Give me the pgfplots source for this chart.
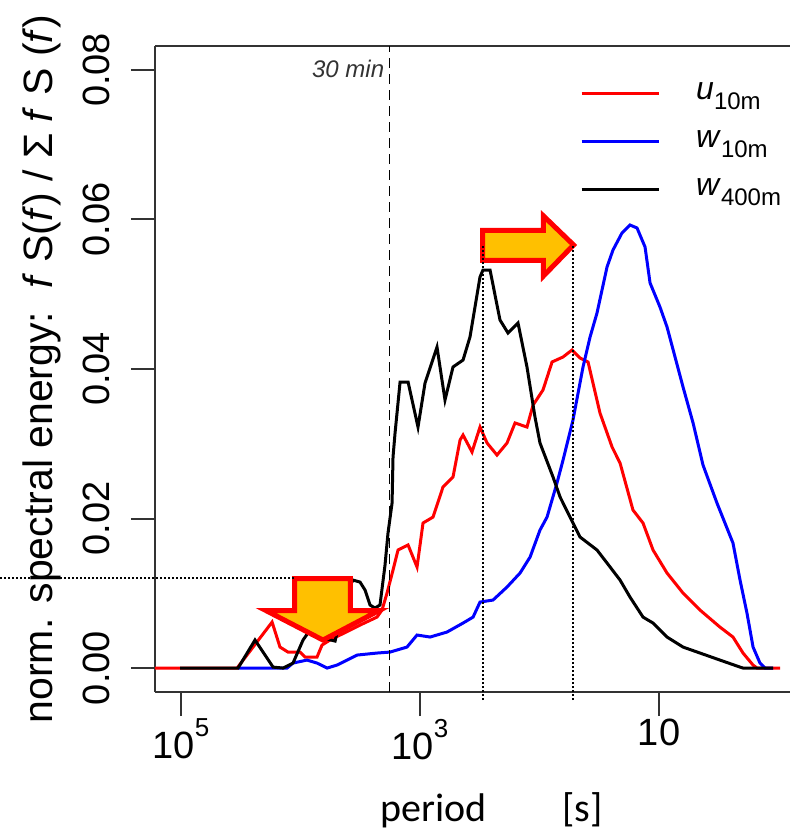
\documentclass[border=0pt]{standalone}
\usepackage{fontspec}
\setmainfont{Liberation Sans}
\newfontfamily\calibri{Carlito}
\usepackage{pgfplots}
\pgfplotsset{compat=1.18}
\definecolor{arrowfill}{HTML}{FFC000}

\begin{document}
\begin{tikzpicture}
\useasboundingbox (-77.5pt,-69pt) rectangle (317.5pt,346pt);
\begin{axis}[
	scale only axis,
	width=317.5pt, height=323pt,
	x dir=reverse,
	xmin=-0.096, xmax=5.218,
	ymin=-0.0032, ymax=0.0832,
	axis y line*=left,
	clip=false,
	scaled y ticks=false,
	axis line style={black!80, line width=1pt},
	every tick/.style={black!80, line width=1pt},
	tick align=outside,
	major tick length=12pt,
	xtick pos=left, ytick pos=left,
	xtick={5,3,1},
	xticklabels={10\raisebox{11pt}{\fontsize{13}{13}\selectfont 5},10\raisebox{11pt}{\fontsize{13}{13}\selectfont 3},10},
	ytick={0,0.02,0.04,0.06,0.08},
	yticklabels={0.00,0.02,0.04,0.06,0.08},
	tick label style={font=\fontsize{19}{19}\selectfont},
	xticklabel style={anchor=north, yshift=2pt},
	yticklabel style={xshift=-7pt, rotate=90, anchor=south},
	xlabel={period\hspace*{38pt}[s]},
	xlabel style={at={(axis description cs:0.3543,-0.2)}, anchor=base west,
		inner sep=0pt, font=\calibri\fontsize{20}{20}\selectfont},
	ylabel={norm. spectral energy:\ \ \textit{f} S(\textit{f}) / Σ \textit{f} S (\textit{f})},
	ylabel style={at={(axis description cs:-0.178,0.5)}, anchor=center,
		font=\fontsize{20.5}{20.5}\selectfont},
	legend style={draw=none, fill=none, at={(axis description cs:0.669,0.955)},
		anchor=north west, inner sep=0pt, row sep=6pt, column sep=18pt,
		font=\fontsize{16}{16}\selectfont,
		nodes={inner sep=0pt, text height=12pt, text depth=6pt}},
	legend cell align=left,
	legend image code/.code={\draw[#1] (0pt,0pt) -- (38.5pt,0pt);},
]

% u 10 m
\addplot[red, line width=1.5pt] coordinates {
(5.218,0) (4.531,0) (4.238,0.00615) (4.172,0.00281) (4.105,0.00214) (4.004,0.00214)
(3.962,0.00147) (3.862,0.00147) (3.820,0.00308) (3.753,0.00375) (3.669,0.00442)
(3.502,0.00575) (3.360,0.00682) (3.318,0.00776) (3.276,0.01004) (3.226,0.01311)
(3.184,0.01579) (3.100,0.01646) (3.025,0.01351) (2.975,0.01940) (2.891,0.02020)
(2.808,0.02421) (2.724,0.02555) (2.665,0.03050) (2.640,0.03117) (2.565,0.02890)
(2.498,0.03224) (2.439,0.03010) (2.356,0.02849) (2.272,0.03010) (2.205,0.03278)
(2.105,0.03224) (2.054,0.03518) (1.971,0.03719) (1.895,0.04094) (1.803,0.04161)
(1.728,0.04254) (1.661,0.04147) (1.594,0.04094) (1.494,0.03411) (1.393,0.02957)
(1.326,0.02742) (1.218,0.02114) (1.134,0.01940) (1.050,0.01579) (0.933,0.01271)
(0.799,0.01003) (0.657,0.00776) (0.490,0.00548) (0.381,0.00415) (0.297,0.00201)
(0.213,0.0004) (0.180,0) (-0.013,0)
};
\addlegendentry{\textit{u}\raisebox{-5pt}{\fontsize{12}{12}\selectfont 10m}}

% w 10 m
\addplot[blue, line width=1.5pt] coordinates {
(4.523,0) (4.113,0) (4.063,0.00067) (3.946,0.00107) (3.862,0.00067) (3.778,0)
(3.695,0.0004) (3.527,0.00174) (3.360,0.00201) (3.251,0.00214) (3.109,0.00281)
(3.025,0.00442) (2.916,0.00415) (2.774,0.00482) (2.640,0.00602) (2.556,0.00682)
(2.498,0.00883) (2.389,0.00910) (2.272,0.01084) (2.163,0.01271) (2.079,0.01485)
(1.996,0.01846) (1.937,0.02020) (1.854,0.02475) (1.803,0.02783) (1.720,0.03318)
(1.636,0.04027) (1.577,0.04428) (1.519,0.04749) (1.435,0.05365) (1.385,0.05592)
(1.310,0.05819) (1.243,0.05926) (1.184,0.05886) (1.117,0.05632) (1.075,0.05151)
(0.992,0.04829) (0.933,0.04562) (0.866,0.04161) (0.799,0.03759) (0.715,0.03278)
(0.632,0.02716) (0.515,0.02207) (0.381,0.01672) (0.322,0.01177) (0.264,0.00736)
(0.213,0.00281) (0.155,0.00067) (0.113,0) (0.046,0)
};
\addlegendentry{\textit{w}\raisebox{-5pt}{\fontsize{12}{12}\selectfont 10m}}

% w 400 m
\addplot[black, line width=1.5pt] coordinates {
(5.008,0) (4.523,0) (4.381,0.00375) (4.230,0.00013) (4.146,0) (4.063,0.00067)
(3.979,0.00375) (3.921,0.00508) (3.812,0.00401) (3.711,0.00361) (3.669,0.00642)
(3.628,0.00977) (3.561,0.01177) (3.502,0.0115) (3.460,0.01043) (3.418,0.00843)
(3.377,0.00803) (3.335,0.00843) (3.293,0.01378) (3.268,0.01806) (3.234,0.02207)
(3.226,0.02823) (3.209,0.03144) (3.167,0.03826) (3.100,0.03826) (3.017,0.03224)
(2.958,0.03813) (2.858,0.04294) (2.791,0.03585) (2.724,0.04027) (2.640,0.04120)
(2.582,0.04428) (2.498,0.05231) (2.473,0.05324) (2.414,0.05324) (2.331,0.04656)
(2.264,0.04482) (2.180,0.04615) (2.105,0.04027) (2.038,0.03358) (1.996,0.03010)
(1.887,0.02555) (1.828,0.02288) (1.745,0.02020) (1.661,0.01753) (1.519,0.01579)
(1.435,0.01405) (1.326,0.01177) (1.243,0.00950) (1.134,0.00682) (1.050,0.00602)
(0.933,0.00415) (0.799,0.00281) (0.657,0.00201) (0.490,0.00107) (0.322,0.00013)
(0.297,0) (0.046,0)
};
\addlegendentry{\textit{w}\raisebox{-5pt}{\fontsize{12}{12}\selectfont 400m}}

% 30 min marker
\addplot[black, line width=0.8pt, dash pattern=on 5pt off 3pt, forget plot]
	coordinates {(3.255,-0.0032) (3.255,0.0832)};
\node[anchor=base east, inner sep=0pt, xshift=-2.5pt, black!80,
	font=\itshape\fontsize{12}{12}\selectfont] at (axis cs:3.255,0.07893) {30 min};

% arrows
\draw[red, line width=2.5pt, fill=arrowfill, line join=miter]
	(axis cs:2.477,0.05853) -- (axis cs:1.967,0.05853) -- (axis cs:1.967,0.06047)
	-- (axis cs:1.715,0.05659) -- (axis cs:1.967,0.05244) -- (axis cs:1.967,0.05452)
	-- (axis cs:2.477,0.05452) -- cycle;
\draw[red, line width=2.5pt, fill=arrowfill, line join=miter]
	(axis cs:4.050,0.01197) -- (axis cs:3.582,0.01197) -- (axis cs:3.582,0.00769)
	-- (axis cs:3.343,0.00769) -- (axis cs:3.812,0.00375) -- (axis cs:4.289,0.00769)
	-- (axis cs:4.050,0.00769) -- cycle;

% dotted guides
\addplot[black, line width=1pt, dash pattern=on 1pt off 1pt, forget plot]
	coordinates {(2.473,-0.00428) (2.473,0.05659)};
\addplot[black, line width=1pt, dash pattern=on 1pt off 1pt, forget plot]
	coordinates {(1.720,-0.00428) (1.720,0.05659)};
\addplot[black, line width=1pt, dash pattern=on 1pt off 1pt, forget plot]
	coordinates {(6.515,0.01204) (4.050,0.01204)};
\end{axis}
\end{tikzpicture}
\end{document}
